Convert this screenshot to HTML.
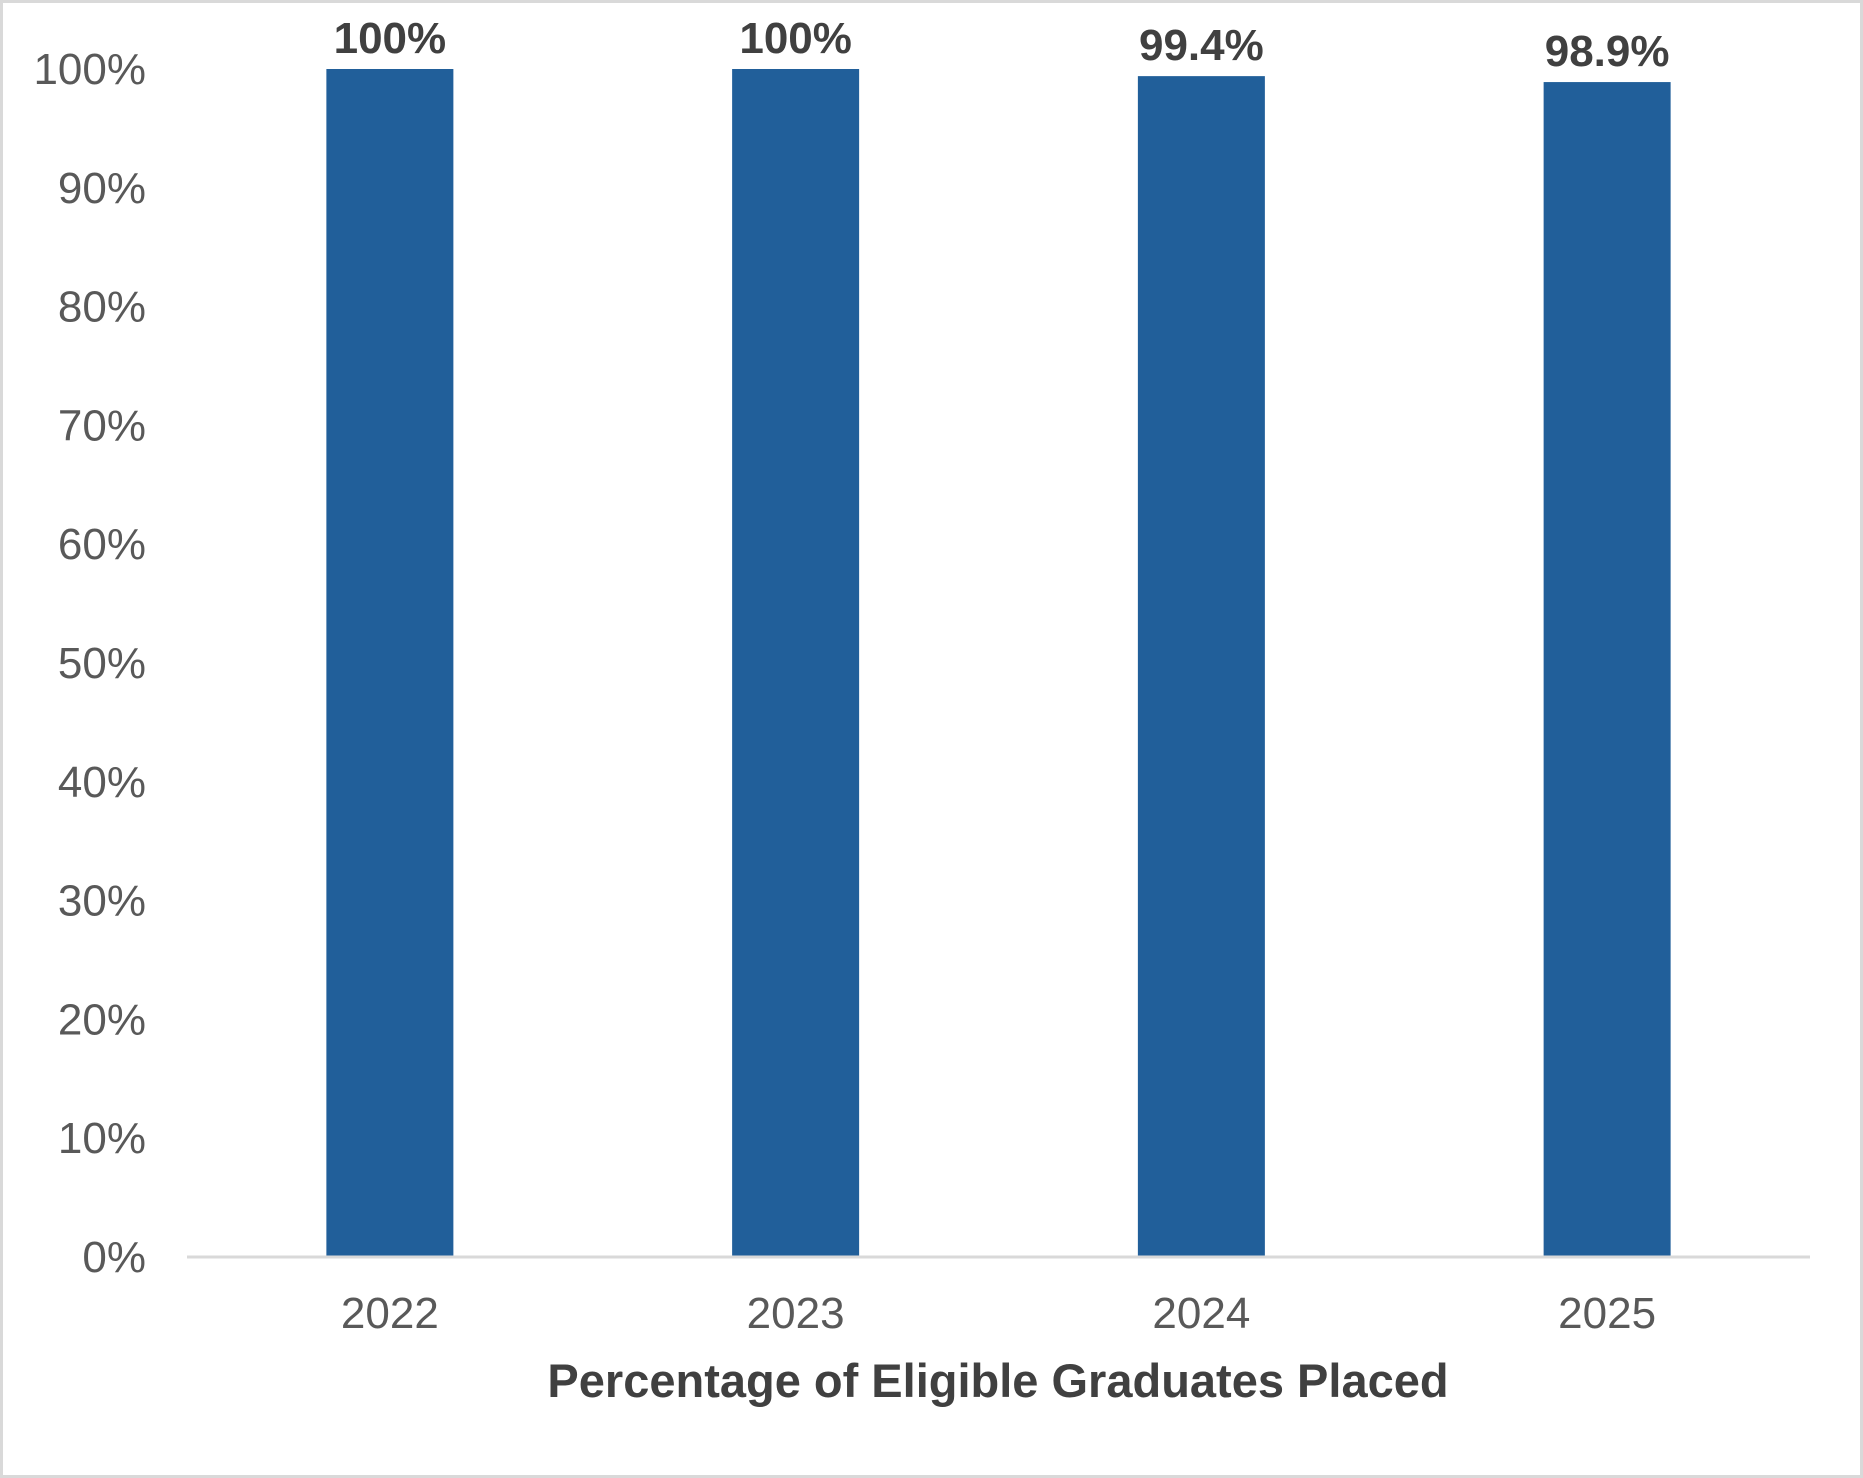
<!DOCTYPE html>
<html><head><meta charset="utf-8"><style>
html,body{margin:0;padding:0;background:#fff}
svg{display:block}
text{font-family:"Liberation Sans",Arial,sans-serif}
</style></head><body>
<svg width="1863" height="1478" viewBox="0 0 1863 1478">
<rect x="1.5" y="1.5" width="1860" height="1475" fill="#fff" stroke="#d9d9d9" stroke-width="3"/>
<g id="yticks"></g>
<g id="bars"></g>
<line x1="187" y1="1257" x2="1810" y2="1257" stroke="#d9d9d9" stroke-width="3"/>
<text x="998" y="1397" text-anchor="middle" font-size="47" font-weight="bold" fill="#404040">Percentage of Eligible Graduates Placed</text>
</svg>
<script>
const categories = ["2022","2023","2024","2025"];
const values = [100, 100, 99.4, 98.9];
const valueLabels = ["100%","100%","99.4%","98.9%"];
const yTicks = [0,10,20,30,40,50,60,70,80,90,100];
const ns="http://www.w3.org/2000/svg";
const y0=1257, y100=69, xL=187, xR=1810;
const yScale=v=>y0-(y0-y100)*v/100;
const band=(xR-xL)/categories.length;
const xCenter=i=>xL+band*(i+0.5);
const barW=127;
const yg=document.getElementById('yticks');
yTicks.forEach(t=>{
  const e=document.createElementNS(ns,'text');
  e.setAttribute('x',146);e.setAttribute('y',yScale(t)+15);
  e.setAttribute('text-anchor','end');e.setAttribute('font-size','44');e.setAttribute('fill','#595959');
  e.textContent=t+'%';
  
  
  yg.appendChild(e);
});
const bg=document.getElementById('bars');
categories.forEach((c,i)=>{
  const cx=xCenter(i);
  const r=document.createElementNS(ns,'rect');
  r.setAttribute('x',cx-barW/2);r.setAttribute('y',yScale(values[i]));
  r.setAttribute('width',barW);r.setAttribute('height',y0-yScale(values[i]));
  r.setAttribute('fill','#215f9a');
  
  
  bg.appendChild(r);
  const l=document.createElementNS(ns,'text');
  l.setAttribute('x',cx);l.setAttribute('y',yScale(values[i])-16);
  l.setAttribute('text-anchor','middle');l.setAttribute('font-size','44');l.setAttribute('font-weight','bold');l.setAttribute('fill','#404040');
  l.textContent=valueLabels[i];
  
  
  bg.appendChild(l);
  const x=document.createElementNS(ns,'text');
  x.setAttribute('x',cx);x.setAttribute('y',1328);
  x.setAttribute('text-anchor','middle');x.setAttribute('font-size','44');x.setAttribute('fill','#595959');
  x.textContent=c;
  
  
  bg.appendChild(x);
});
</script>
</body></html>
